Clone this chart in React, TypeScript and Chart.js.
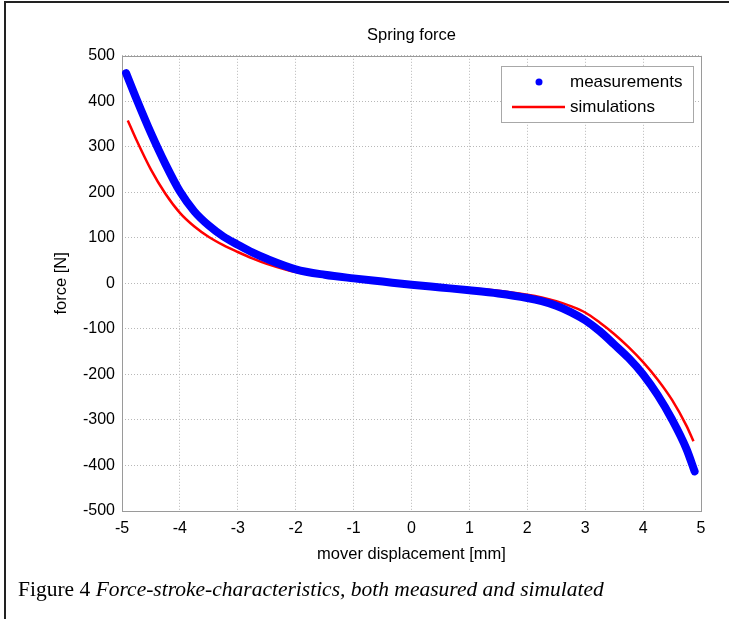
import React, { useEffect, useRef } from "react";
import { Chart, registerables } from "chart.js";

Chart.register(...registerables);

const chartTitle = "Spring force";
const xAxisTitle = "mover displacement [mm]";
const yAxisTitle = "force [N]";
const caption = "Force-stroke-characteristics, both measured and simulated";
const captionLabel = "Figure 4 ";

const xTicks = [-5, -4, -3, -2, -1, 0, 1, 2, 3, 4, 5];
const yTicks = [-500, -400, -300, -200, -100, 0, 100, 200, 300, 400, 500];

const measLabel = "measurements";
const measX = [-4.93, -4.75, -4.5, -4.25, -4, -3.75, -3.5, -3.25, -3, -2.75, -2.5, -2, -1.5, -1, -0.5, 0, 0.5, 1, 1.5, 2, 2.25, 2.5, 2.75, 3, 3.25, 3.5, 3.75, 4, 4.25, 4.5, 4.75, 4.89];
const measY = [462, 405, 330, 262, 202, 158, 127, 103, 85, 68, 54, 31, 19, 11, 4, -3, -9, -15, -22, -32, -39, -49, -63, -81, -105, -134, -164, -200, -245, -299, -364, -413];

const simLabel = "simulations";
const simX = [-4.9, -4.75, -4.5, -4.25, -4, -3.75, -3.5, -3.25, -3, -2.75, -2.5, -2, -1.5, -1, -0.5, 0, 0.5, 1, 1.5, 2, 2.25, 2.5, 2.75, 3, 3.25, 3.5, 3.75, 4, 4.25, 4.5, 4.75, 4.87];
const simY = [358, 315, 250, 197, 155, 125, 102, 84, 69, 55, 43, 25, 17, 10, 4, -2, -7, -11, -16, -25, -31, -39, -50, -64, -86, -111, -140, -173, -211, -256, -313, -347];

const FONT = '"Liberation Sans", Arial, Helvetica, sans-serif';

const plotBox = {
  id: "plotBox",
  beforeDatasetsDraw(chart: any) {
    const { ctx, chartArea } = chart;
    ctx.save();
    ctx.strokeStyle = "#9a9a9a";
    ctx.lineWidth = 1;
    ctx.strokeRect(
      Math.round(chartArea.left) + 0.5,
      Math.round(chartArea.top) + 0.5,
      Math.round(chartArea.right - chartArea.left),
      Math.round(chartArea.bottom - chartArea.top)
    );
    ctx.restore();
  },
};

const legendBox = {
  id: "legendBox",
  afterDraw(chart: any) {
    const { ctx, chartArea } = chart;
    const w = 192;
    const h = 56;
    const x = Math.round(chartArea.right - 8 - w);
    const y = Math.round(chartArea.top + 10);
    ctx.save();
    ctx.fillStyle = "#ffffff";
    ctx.fillRect(x, y, w, h);
    ctx.strokeStyle = "#a8a8a8";
    ctx.lineWidth = 1;
    ctx.strokeRect(x + 0.5, y + 0.5, w, h);
    ctx.font = "17px " + FONT;
    ctx.textBaseline = "middle";
    ctx.textAlign = "left";
    chart.data.datasets.forEach((ds: any, i: number) => {
      const cy = y + 16 + i * 25;
      if (ds.legendMarker === "dot") {
        ctx.beginPath();
        ctx.fillStyle = ds.borderColor;
        ctx.arc(x + 38, cy, 3.5, 0, Math.PI * 2);
        ctx.fill();
      } else {
        ctx.beginPath();
        ctx.strokeStyle = ds.borderColor;
        ctx.lineWidth = 2.5;
        ctx.moveTo(x + 11, cy);
        ctx.lineTo(x + 64, cy);
        ctx.stroke();
      }
      ctx.fillStyle = "#000";
      ctx.fillText(ds.label, x + 69, cy);
    });
    ctx.restore();
  },
};

export default function App() {
  const ref = useRef<HTMLCanvasElement | null>(null);

  useEffect(() => {
    document.body.style.margin = "0";
    if (!ref.current) return;
    const chart = new Chart(ref.current, {
      type: "scatter",
      data: {
        datasets: [
          {
            label: measLabel,
            data: measX.map((x, i) => ({ x, y: measY[i] })),
            showLine: true,
            borderColor: "#0000ff",
            backgroundColor: "#0000ff",
            borderWidth: 8,
            borderCapStyle: "round",
            borderJoinStyle: "round",
            pointRadius: 0,
            cubicInterpolationMode: "monotone",
            legendMarker: "dot",
          } as any,
          {
            label: simLabel,
            data: simX.map((x, i) => ({ x, y: simY[i] })),
            showLine: true,
            borderColor: "#ff0000",
            backgroundColor: "#ff0000",
            borderWidth: 2.5,
            pointRadius: 0,
            cubicInterpolationMode: "monotone",
            legendMarker: "line",
          } as any,
        ],
      },
      options: {
        animation: false,
        responsive: true,
        maintainAspectRatio: false,
        layout: { padding: { top: 22, left: 52, right: 28, bottom: 55 } },
        plugins: {
          legend: { display: false },
          tooltip: { enabled: false },
          title: {
            display: true,
            text: chartTitle,
            fullSize: false,
            color: "#000",
            font: { family: FONT, size: 16.5, weight: "normal" },
            padding: { top: 4, bottom: 10 },
          },
        },
        scales: {
          x: {
            type: "linear",
            min: -5,
            max: 5,
            afterFit: (s: any) => {
              s.height = 53;
            },
            afterBuildTicks: (s: any) => {
              s.ticks = xTicks.map((v) => ({ value: v }));
            },
            ticks: {
              color: "#000",
              font: { family: FONT, size: 16 },
              padding: 8,
              maxRotation: 0,
            },
            grid: { color: "#b8b8b8", drawTicks: false, lineWidth: 1 },
            border: { display: false, dash: [1, 2] },
            title: {
              display: true,
              text: xAxisTitle,
              color: "#000",
              font: { family: FONT, size: 16.5 },
              padding: 0,
            },
          },
          y: {
            type: "linear",
            min: -500,
            max: 500,
            afterFit: (s: any) => {
              s.width = 70;
            },
            afterBuildTicks: (s: any) => {
              s.ticks = yTicks.map((v) => ({ value: v }));
            },
            ticks: {
              color: "#000",
              font: { family: FONT, size: 16 },
              padding: 7,
            },
            grid: { color: "#b8b8b8", drawTicks: false, lineWidth: 1 },
            border: { display: false, dash: [1, 2] },
            title: {
              display: true,
              text: yAxisTitle,
              color: "#000",
              font: { family: FONT, size: 16.5 },
              padding: 0,
            },
          },
        },
      },
      plugins: [plotBox, legendBox],
    });
    return () => chart.destroy();
  }, []);

  return (
    <div style={{ position: "absolute", left: 0, top: 0, width: 729, height: 619, background: "#fff", overflow: "hidden" }}>
      <div
        style={{
          position: "absolute",
          left: 4,
          top: 1,
          width: 740,
          height: 700,
          borderTop: "2px solid #222",
          borderLeft: "2px solid #222",
        }}
      />
      <div style={{ position: "absolute", left: 0, top: 0, width: 729, height: 619 }}>
        <canvas ref={ref} />
      </div>
      <div
        style={{
          position: "absolute",
          left: 18,
          top: 576,
          fontFamily: '"Liberation Serif", "Times New Roman", serif',
          fontSize: 21.5,
          whiteSpace: "nowrap",
          color: "#000",
          lineHeight: "26px",
        }}
      >
        {captionLabel}
        <i>{caption}</i>
      </div>
    </div>
  );
}
